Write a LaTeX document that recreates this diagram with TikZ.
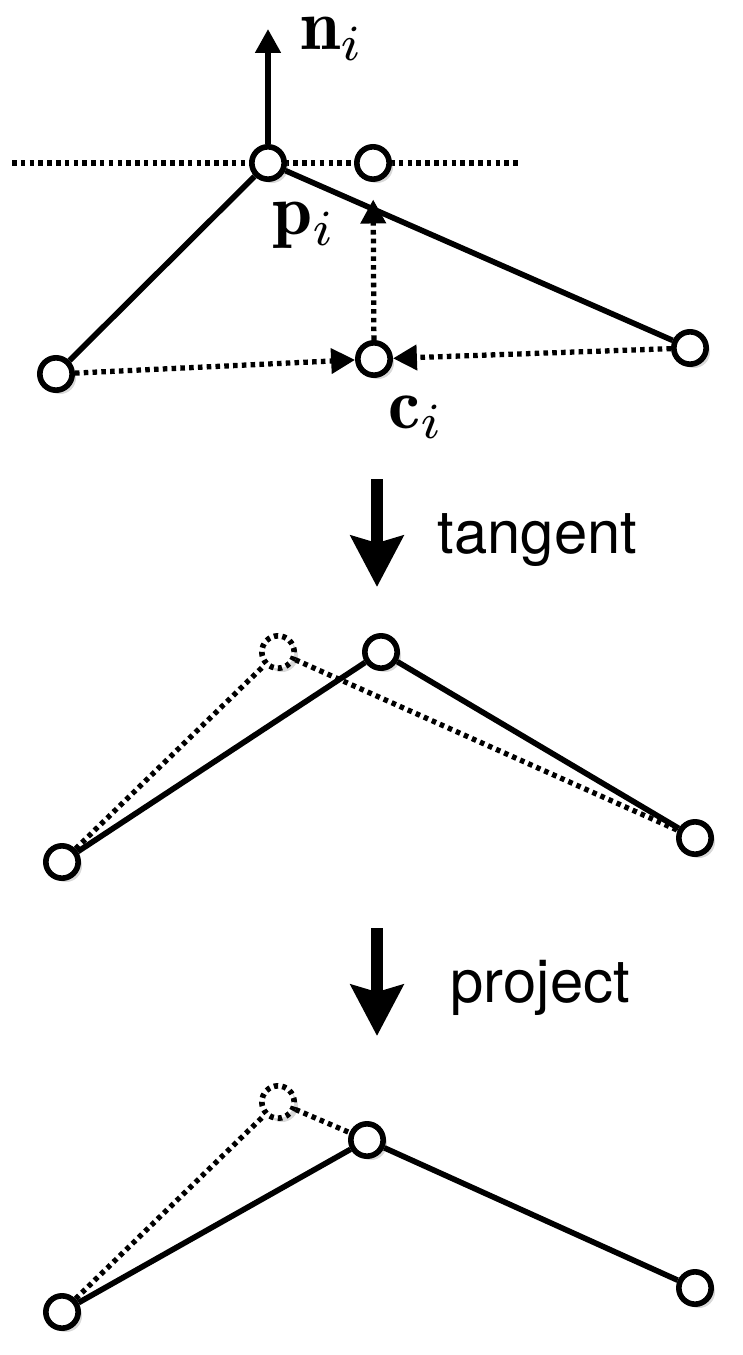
\documentclass[tikz,border=0pt]{standalone}
\usepackage{amsmath}
\usepackage{fontspec}
\usepackage{tikz}
\usetikzlibrary{arrows.meta,shadows}
\newfontfamily\stepfont{TeX Gyre Heros}
\newcommand{\veclab}[1]{\scalebox{2.05}{$#1$}}

\tikzset{
  vertex/.style={circle, draw, fill=white, line width=1.6pt, minimum size=9.2pt, inner sep=0pt,
    drop shadow={opacity=0.3, shadow xshift=1.1pt, shadow yshift=-1.1pt}},
  ghost/.style={vertex, dash pattern=on 1.2pt off 1.2pt},
  edge/.style={line width=1.6pt},
  dots/.style={line width=1.5pt, dash pattern=on 1.3pt off 1.2pt},
  tip/.style={-{Triangle[width=7pt,length=6.8pt]}},
  bigarrow/.style={line width=3.4pt, -{Stealth[width=14.8pt,length=14.5pt,inset=2pt]}},
  steplabel/.style={anchor=base west, inner sep=0pt, font=\stepfont\fontsize{17}{20}\selectfont},
  mathlabel/.style={anchor=base west, inner sep=0pt}
}

\begin{document}
\begin{tikzpicture}[x=0.01cm, y=-0.01cm]
\useasboundingbox (0,0) rectangle (742,1355);

% before: tangent plane at p_i
\coordinate (hL) at (12,163);
\coordinate (hR) at (518,163);
\draw[dots] (hL) -- (hR);
\node[vertex] (p) at (268,163) {};
\node[vertex] (q) at (373,163) {};
\node[vertex] (a1) at (56,374) {};
\node[vertex] (c) at (374,359) {};
\node[vertex] (b1) at (690,348) {};
\coordinate (nTip) at (268,29);
\draw[edge, tip] (p) -- (nTip);
\draw[edge] (a1) -- (p) -- (b1);
\draw[dots, tip] (a1) -- (c);
\draw[dots, tip] (b1) -- (c);
\draw[dots, tip, shorten >=5pt] (c) -- (q);
\node[mathlabel] (nlab) at (300,50) {\veclab{\mathbf{n}_i}};
\node[mathlabel] (plab) at (272,235) {\veclab{\mathbf{p}_i}};
\node[mathlabel] (clab) at (388,428) {\veclab{\mathbf{c}_i}};

% step 1
\coordinate (tTop) at (377,479);
\coordinate (tBot) at (377,587);
\draw[bigarrow] (tTop) -- (tBot);
\node[steplabel] (tlab) at (437,553) {tangent};

\node[ghost] (g2) at (278,652) {};
\node[vertex] (t2) at (381,652) {};
\node[vertex] (a2) at (62,862) {};
\node[vertex] (b2) at (695,838) {};
\draw[dots] (a2) -- (g2) -- (b2);
\draw[edge] (a2) -- (t2) -- (b2);

% step 2
\coordinate (pTop) at (377,928);
\coordinate (pBot) at (377,1036);
\draw[bigarrow] (pTop) -- (pBot);
\node[steplabel] (prlab) at (450,1002) {project};

\node[ghost] (g3) at (278,1102) {};
\node[vertex] (m3) at (367,1140) {};
\node[vertex] (a3) at (62,1312) {};
\node[vertex] (b3) at (695,1288) {};
\draw[dots] (a3) -- (g3) -- (m3);
\draw[edge] (a3) -- (m3) -- (b3);

\end{tikzpicture}
\end{document}
